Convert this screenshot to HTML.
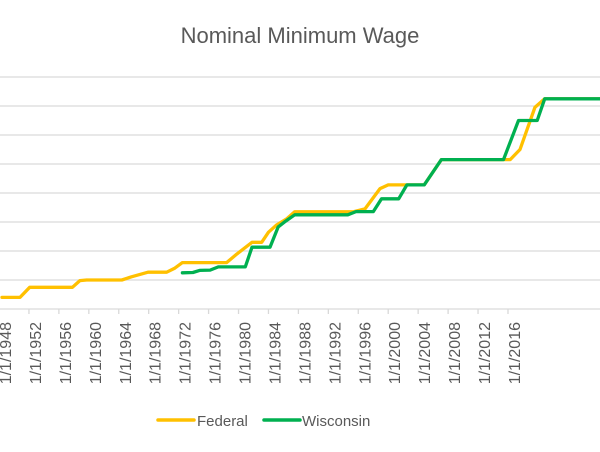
<!DOCTYPE html>
<html><head><meta charset="utf-8"><style>
html,body{margin:0;padding:0;background:#fff;}
svg{display:block;font-family:"Liberation Sans",sans-serif;}
</style></head><body>
<svg id="chart" width="600" height="452" viewBox="0 0 600 452" xmlns="http://www.w3.org/2000/svg">
<rect width="600" height="452" fill="#fff"/>
<text x="300" y="43" text-anchor="middle" font-size="22" fill="#595959">Nominal Minimum Wage</text>
<g id="grid"></g><g id="xaxis"></g><g id="series"></g>
<g>
<line x1="158" y1="420" x2="194" y2="420" stroke="#FFC000" stroke-width="3.5" stroke-linecap="round"/>
<text x="197" y="426" font-size="15" fill="#595959">Federal</text>
<line x1="264" y1="420" x2="300" y2="420" stroke="#00B050" stroke-width="3.5" stroke-linecap="round"/>
<text x="302" y="426" font-size="15" fill="#595959">Wisconsin</text>
</g>
</svg>
<script>
const yTicks=[0,1,2,3,4,5,6,7,8];
const xLabels=[1948,1952,1956,1960,1964,1968,1972,1976,1980,1984,1988,1992,1996,2000,2004,2008,2012,2016];
const fedYears=[1947.6,1950.0,1951.3,1957.0,1958.0,1958.9,1963.6,1964.9,1967.1,1969.6,1970.7,1971.7,1977.6,1979.0,1981.0,1982.3,1983.2,1984.3,1985.6,1986.7,1994.5,1996.1,1998.1,1999.2,2004.0,2006.3,2015.5,2016.8,2018.8,2020.1,2027.6];
const fedValues=[0.40,0.40,0.75,0.75,0.98,1.00,1.00,1.11,1.27,1.27,1.41,1.60,1.60,1.90,2.30,2.30,2.65,2.90,3.10,3.35,3.35,3.45,4.15,4.28,4.28,5.15,5.15,5.50,6.95,7.25,7.25];
const wiYears=[1971.7,1973.1,1974.0,1975.4,1976.5,1980.1,1981.0,1983.4,1984.5,1985.5,1986.7,1993.8,1994.9,1997.2,1998.3,2000.6,2001.7,2004.0,2006.3,2014.6,2016.6,2019.1,2020.1,2027.6];
const wiValues=[1.25,1.26,1.33,1.34,1.45,1.45,2.13,2.13,2.83,3.03,3.25,3.25,3.36,3.36,3.80,3.80,4.28,4.28,5.15,5.15,6.50,6.50,7.25,7.25];
const NS="http://www.w3.org/2000/svg";
function xS(yr){return 5+(yr-1948)*7.485;}
function yS(v){return 309-v*29;}
const grid=document.getElementById('grid');
yTicks.forEach(t=>{
 const l=document.createElementNS(NS,'line');
 
 
 l.setAttribute('x1',0);l.setAttribute('x2',600);
 l.setAttribute('y1',yS(t));l.setAttribute('y2',yS(t));
 l.setAttribute('stroke','#d9d9d9');l.setAttribute('stroke-width',1.3);
 grid.appendChild(l);
});
const xa=document.getElementById('xaxis');
xLabels.forEach((yr,i)=>{
 const x=xS(yr);
 if(i>0){
  const tk=document.createElementNS(NS,'line');
  
  
  tk.setAttribute('x1',x-6);tk.setAttribute('x2',x-6);
  tk.setAttribute('y1',309);tk.setAttribute('y2',314);
  tk.setAttribute('stroke','#d9d9d9');tk.setAttribute('stroke-width',1.3);
  xa.appendChild(tk);
 }
 const t=document.createElementNS(NS,'text');
 
 
 t.setAttribute('transform','translate('+(x+6)+',322) rotate(-90)');
 t.setAttribute('text-anchor','end');
 t.setAttribute('font-size','16');
 t.setAttribute('fill','#595959');
 t.textContent='1/1/'+yr;
 xa.appendChild(t);
});
const sg=document.getElementById('series');
function draw(years,vals,color,name){
 const p=document.createElementNS(NS,'polyline');
 
 
 p.setAttribute('points',years.map((y,i)=>xS(y).toFixed(1)+','+yS(vals[i]).toFixed(1)).join(' '));
 p.setAttribute('fill','none');p.setAttribute('stroke',color);
 p.setAttribute('stroke-width',3.3);p.setAttribute('stroke-linejoin','round');p.setAttribute('stroke-linecap','round');
 sg.appendChild(p);
}
draw(fedYears,fedValues,'#FFC000','federal-line');
draw(wiYears,wiValues,'#00B050','wisconsin-line');
</script>
</body></html>
